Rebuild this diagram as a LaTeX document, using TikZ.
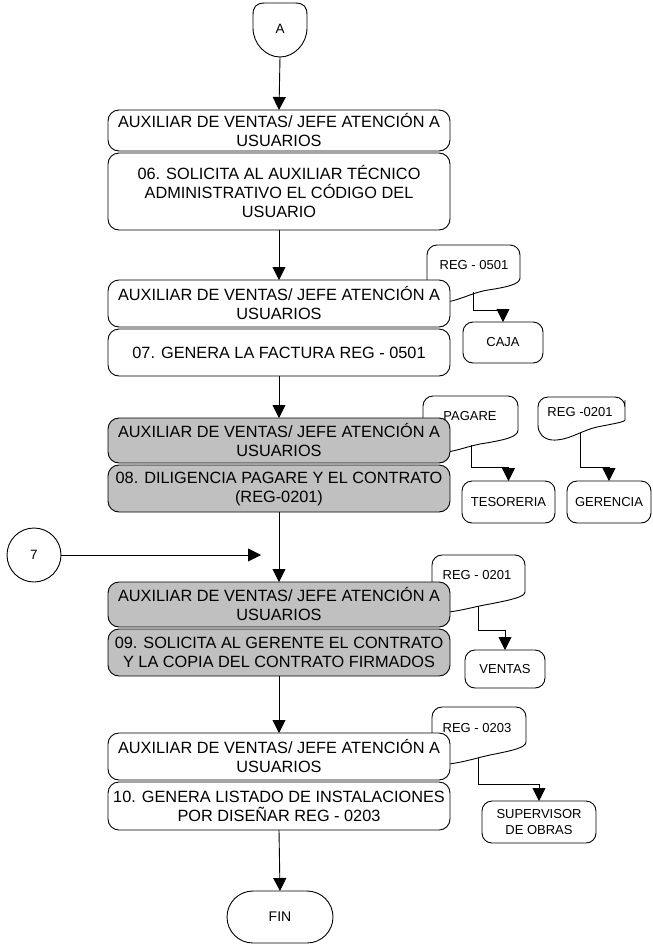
\documentclass[tikz,border=0pt]{standalone}
\usepackage{fontspec}
\setmainfont{Liberation Sans}
\usetikzlibrary{arrows.meta,calc}
\definecolor{boxgray}{RGB}{192,192,192}

\begin{document}
\begin{tikzpicture}[x=1pt,y=-1pt,
  every node/.style={inner sep=0pt, outer sep=0pt},
  flowbox/.style={draw=black, line width=0.9pt, rounded corners=11pt, fill=white,
    minimum width=342pt, align=center, font=\fontsize{16.3}{19}\selectfont},
  shaded/.style={fill=boxgray},
  destbox/.style={draw=black, line width=0.9pt, rounded corners=10pt, fill=white,
    align=center, font=\fontsize{13}{16}\selectfont},
  docshape/.style={draw=black, line width=0.9pt, fill=white},
  doctext/.style={font=\fontsize{13}{16}\selectfont},
  conn/.style={draw=black, line width=0.9pt, -{Triangle[width=13pt,length=13pt]}},
]
\useasboundingbox (0,0) rectangle (653,945);

% ---- off-page connector A (rounded shield outline)
\draw[line width=0.9pt] (265,3) -- (295,3)
  .. controls (304,3) and (307,7) .. (307,15) -- (307,28)
  .. controls (307,44) and (294,57) .. (280,57)
  .. controls (266,57) and (253,44) .. (253,28) -- (253,15)
  .. controls (253,7) and (256,3) .. (265,3) -- cycle;
\node[font=\fontsize{13.5}{16}\selectfont] (A) at (280,29) {A};
\coordinate (Abot) at (280,57);

% ---- document symbols (drawn first, the boxes overlap them)
\path[docshape] (427,300) {[rounded corners=10pt] -- (427,245) -- (520,245) -- (520,268)}
  .. controls (520,284) and (508,287) .. (488,290)
  .. controls (470,293) and (460,301) .. (440,303) -- cycle;
\node[doctext] (d1) at (474,265) {REG - 0501};
\coordinate (d1w) at (473,292);

\path[docshape] (423,450) {[rounded corners=10pt] -- (423,396) -- (518,396) -- (518,420)}
  .. controls (518,437) and (505,440) .. (480,444)
  .. controls (465,447) and (458,451) .. (440,453) -- cycle;
\node[doctext] (d2) at (470,416) {PAGARE};
\coordinate (d2w) at (471,445);

\path[docshape] (538,425) {[rounded corners=10pt] -- (538,397) -- (625,397) -- (625,410)}
  .. controls (625,422) and (612,424) .. (597,427)
  .. controls (580,431) and (568,441) .. (552,440)
  .. controls (543,439) and (538,433) .. (538,425) -- cycle;
\node[doctext] (d3) at (580,412) {REG -0201};
\coordinate (d3w) at (580,433);

\path[docshape] (432,610) {[rounded corners=10pt] -- (432,555) -- (525,555) -- (525,582)}
  .. controls (525,597) and (510,600) .. (490,604)
  .. controls (472,607) and (462,611) .. (440,613) -- cycle;
\node[doctext] (d4) at (477,575) {REG - 0201};
\coordinate (d4w) at (478,606);

\path[docshape] (432,760) {[rounded corners=10pt] -- (432,707) -- (526,707) -- (526,732)}
  .. controls (526,748) and (510,751) .. (490,755)
  .. controls (472,759) and (462,763) .. (440,765) -- cycle;
\node[doctext] (d5) at (477,728) {REG - 0203};
\coordinate (d5w) at (478,758);

% ---- main flow boxes
\node[flowbox, minimum height=41pt] (b1) at (279,130.5) {AUXILIAR DE VENTAS/ JEFE ATENCIÓN A\\USUARIOS};
\node[flowbox, minimum height=77pt] (b2) at (279,191.5) {06. SOLICITA AL AUXILIAR TÉCNICO\\ADMINISTRATIVO EL CÓDIGO DEL\\USUARIO};
\node[flowbox, minimum height=47pt] (b3) at (279,303.5) {AUXILIAR DE VENTAS/ JEFE ATENCIÓN A\\USUARIOS};
\node[flowbox, minimum height=47pt] (b4) at (279,352.5) {07. GENERA LA FACTURA REG - 0501};
\node[flowbox, shaded, minimum height=45pt] (b5) at (279,440.5) {AUXILIAR DE VENTAS/ JEFE ATENCIÓN A\\USUARIOS};
\node[flowbox, shaded, minimum height=47pt] (b6) at (279,488.5) {08. DILIGENCIA PAGARE Y EL CONTRATO\\(REG-0201)};
\node[flowbox, shaded, minimum height=45pt] (b7) at (279,604.5) {AUXILIAR DE VENTAS/ JEFE ATENCIÓN A\\USUARIOS};
\node[flowbox, shaded, minimum height=47pt] (b8) at (279,652.5) {09. SOLICITA AL GERENTE EL CONTRATO\\Y LA COPIA DEL CONTRATO FIRMADOS};
\node[flowbox, minimum height=47pt] (b9) at (279,756.5) {AUXILIAR DE VENTAS/ JEFE ATENCIÓN A\\USUARIOS};
\node[flowbox, minimum height=48pt] (b10) at (279,806) {10. GENERA LISTADO DE INSTALACIONES\\POR DISEÑAR REG - 0203};

% ---- destination boxes
\node[destbox, minimum width=80pt, minimum height=41pt] (caja) at (503,342.5) {CAJA};
\node[destbox, minimum width=93pt, minimum height=42pt] (teso) at (508.5,502) {TESORERIA};
\node[destbox, minimum width=84pt, minimum height=42pt] (ger) at (609,502) {GERENCIA};
\node[destbox, minimum width=80pt, minimum height=38pt] (ventas) at (505,669) {VENTAS};
\node[destbox, minimum width=114pt, minimum height=42pt] (sup) at (539,822) {SUPERVISOR\\DE OBRAS};

% ---- terminal and on-page connector
\node[draw=black, line width=0.9pt, rounded corners=26pt, minimum width=106pt, minimum height=52pt,
  font=\fontsize{14}{16}\selectfont] (fin) at (280,917) {FIN};
\node[draw=black, line width=0.9pt, circle, minimum size=54pt,
  font=\fontsize{13.5}{16}\selectfont] (c7) at (34,555) {7};
\coordinate (join7) at (261,555);

% ---- main flow connectors
\draw[conn] (Abot) -- (b1.north);
\draw[conn] (b2.south) -- (b3.north);
\draw[conn] (b4.south) -- (b5.north);
\draw[conn] (b6.south) -- (b7.north);
\draw[conn] (b8.south) -- (b9.north);
\draw[conn] (b10.south) -- (fin.north);
\draw[conn] (c7.east) -- (join7);

% ---- document distribution connectors
\draw[conn] (d1w) |- ([yshift=12pt]caja.north) -- (caja.north);
\draw[conn] (d2w) |- ([yshift=14pt]teso.north) -- (teso.north);
\draw[conn] (d3w) |- ([yshift=14pt]ger.north) -- (ger.north);
\draw[conn] (d4w) |- ([yshift=20pt]ventas.north) -- (ventas.north);
\draw[conn] (d5w) |- ([yshift=17pt]sup.north) -- (sup.north);
\end{tikzpicture}
\end{document}
